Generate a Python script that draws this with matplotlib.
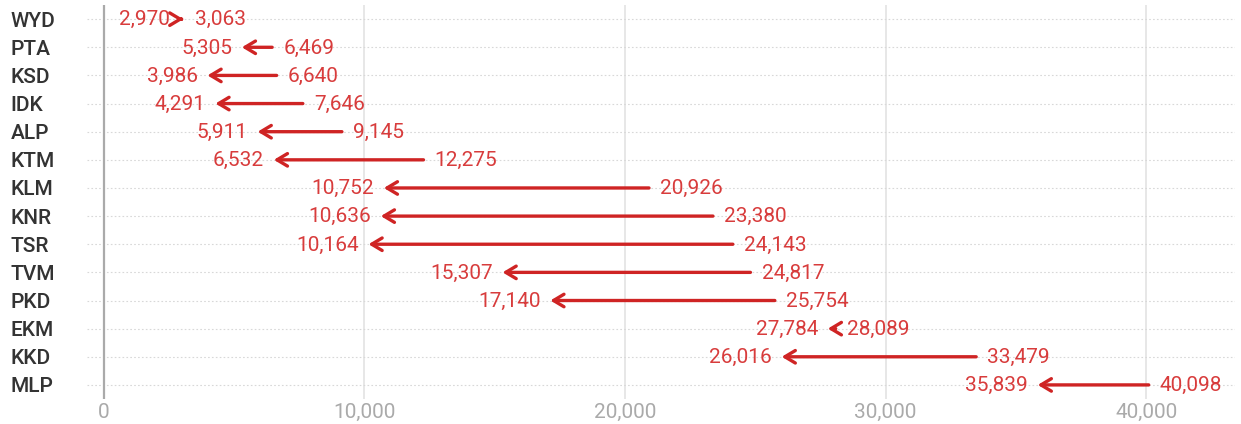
"""Arrow chart: change per district"""

import matplotlib.pyplot as plt

districts = ["WYD", "PTA", "KSD", "IDK", "ALP", "KTM", "KLM",
             "KNR", "TSR", "TVM", "PKD", "EKM", "KKD", "MLP"]
before = [2970, 6469, 6640, 7646, 9145, 12275, 20926,
          23380, 24143, 24817, 25754, 28089, 33479, 40098]
after = [3063, 5305, 3986, 4291, 5911, 6532, 10752,
         10636, 10164, 15307, 17140, 27784, 26016, 35839]
xticks = [0, 10000, 20000, 30000, 40000]

RED = "#cf2424"
TXT = "#d83c3c"
FS = 15

plt.rcParams["font.family"] = ["Roboto", "DejaVu Sans"]

fig = plt.figure(figsize=(12.41, 4.24), dpi=100)
ax = fig.add_axes([0.070, 0.059, 0.925, 0.929])

ax.set_xlim(-640, 43400)
ax.set_ylim(len(districts) - 0.5, -0.5)

# grid
for x in xticks[1:]:
    ax.axvline(x, color="#e3e3e3", lw=1.2, zorder=0)
ax.axvline(0, color="#aaaaaa", lw=1.6, zorder=1)
for i in range(len(districts)):
    ax.axhline(i, color="#d8d8d8", lw=0.8, ls=(0, (1.5, 2.0)), zorder=0)

for i, (b, a) in enumerate(zip(before, after)):
    ax.annotate("", xy=(a, i), xytext=(b, i),
                arrowprops=dict(arrowstyle="->,head_length=0.75,head_width=0.45",
                                color=RED, lw=2.4, shrinkA=0, shrinkB=0),
                zorder=3)
    if a < b:
        ax.annotate(f"{a:,}", xy=(a, i), xytext=(-7, -0.5), textcoords="offset points",
                    ha="right", va="center", color=TXT, fontsize=FS)
        ax.annotate(f"{b:,}", xy=(b, i), xytext=(8, -0.5), textcoords="offset points",
                    ha="left", va="center", color=TXT, fontsize=FS)
    else:
        ax.annotate(f"{b:,}", xy=(b, i), xytext=(-8, -0.5), textcoords="offset points",
                    ha="right", va="center", color=TXT, fontsize=FS)
        ax.annotate(f"{a:,}", xy=(a, i), xytext=(8, -0.5), textcoords="offset points",
                    ha="left", va="center", color=TXT, fontsize=FS)

ax.set_yticks(range(len(districts)))
ax.set_yticklabels(districts, fontsize=FS, color="#333333", fontweight="medium")
for lbl in ax.get_yticklabels():
    lbl.set_horizontalalignment("left")
ax.tick_params(axis="y", length=0, pad=55)

ax.set_xticks(xticks)
ax.set_xticklabels([f"{x:,}" for x in xticks], fontsize=FS, color="#aaaaaa")
ax.tick_params(axis="x", length=0, pad=3)

for s in ax.spines.values():
    s.set_visible(False)

fig.savefig("out.png", dpi=100)
